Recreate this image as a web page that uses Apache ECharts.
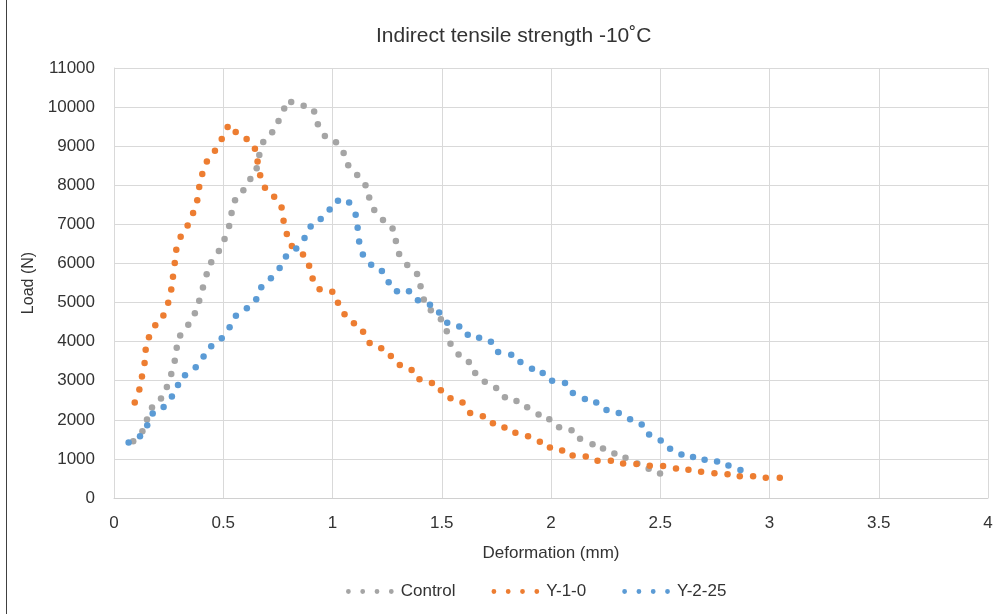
<!DOCTYPE html>
<html>
<head>
<meta charset="utf-8">
<script src="https://cdn.jsdelivr.net/npm/echarts@6/dist/echarts.min.js"></script>
<style>
  html, body { margin: 0; padding: 0; background: #fff; }
  #chart { width: 1008px; height: 614px; }
</style>
</head>
<body>
<div id="chart"></div>
<script>
// ---- Data ----
const seriesNames = ['Control', 'Y-1-0', 'Y-2-25'];

const controlX = [0.088,0.13,0.151,0.174,0.215,0.242,0.262,0.278,0.287,0.303,0.34,0.37,0.39,0.407,0.424,0.445,0.48,0.506,0.527,0.538,0.554,0.592,0.624,0.653,0.665,0.683,0.724,0.753,0.779,0.811,0.868,0.916,0.933,0.965,1.016,1.051,1.072,1.113,1.151,1.168,1.191,1.231,1.275,1.29,1.305,1.342,1.387,1.403,1.418,1.45,1.496,1.523,1.54,1.577,1.624,1.653,1.697,1.749,1.789,1.842,1.891,1.943,1.992,2.037,2.094,2.133,2.19,2.238,2.29,2.341,2.395,2.447,2.499];
const controlY = [1454,1709,2007,2314,2543,2839,3172,3512,3844,4158,4430,4728,5043,5383,5722,6028,6318,6625,6957,7288,7620,7875,8163,8436,8775,9107,9354,9643,9966,10128,10034,9890,9558,9260,9100,8827,8512,8265,8003,7686,7365,7110,6895,6573,6242,5962,5732,5416,5077,4800,4574,4268,3945,3673,3477,3196,2977,2814,2577,2482,2321,2135,2015,1811,1735,1513,1378,1267,1140,1028,880,747,628];

const y10X = [0.095,0.116,0.128,0.14,0.145,0.16,0.189,0.226,0.248,0.262,0.27,0.278,0.285,0.305,0.337,0.362,0.381,0.39,0.404,0.425,0.462,0.493,0.52,0.557,0.607,0.645,0.657,0.669,0.691,0.733,0.767,0.776,0.791,0.814,0.865,0.893,0.909,0.941,0.999,1.025,1.055,1.098,1.14,1.17,1.223,1.267,1.308,1.362,1.398,1.455,1.496,1.54,1.595,1.63,1.688,1.734,1.787,1.837,1.895,1.949,1.995,2.051,2.099,2.159,2.213,2.274,2.33,2.391,2.452,2.513,2.572,2.629,2.687,2.748,2.808,2.864,2.925,2.983,3.047];
const y10Y = [2441,2773,3105,3452,3793,4115,4421,4668,4992,5332,5663,6012,6352,6684,6972,7288,7620,7959,8291,8605,8886,9184,9490,9362,9184,8936,8605,8258,7934,7704,7431,7092,6752,6446,6232,5944,5612,5340,5273,4992,4702,4472,4252,3962,3834,3630,3401,3273,3036,2941,2755,2551,2441,2176,2092,1913,1803,1666,1582,1436,1293,1217,1089,1064,952,952,885,867,824,816,757,722,671,630,605,554,554,518,518];

const y225X = [0.067,0.119,0.152,0.177,0.227,0.265,0.293,0.325,0.374,0.41,0.445,0.493,0.529,0.558,0.608,0.651,0.674,0.718,0.758,0.787,0.834,0.872,0.9,0.946,0.987,1.025,1.076,1.106,1.115,1.122,1.139,1.177,1.226,1.257,1.295,1.35,1.391,1.446,1.488,1.525,1.58,1.619,1.671,1.725,1.758,1.818,1.86,1.913,1.962,2.005,2.064,2.1,2.155,2.207,2.254,2.31,2.362,2.415,2.449,2.502,2.545,2.597,2.65,2.703,2.76,2.812,2.867];
const y225Y = [1421,1582,1862,2161,2329,2594,2891,3138,3342,3622,3885,4089,4370,4660,4855,5084,5390,5620,5885,6181,6385,6651,6947,7135,7380,7602,7559,7245,6913,6564,6232,5969,5808,5518,5288,5288,5059,4945,4745,4482,4388,4175,4099,3997,3732,3665,3477,3308,3197,3002,2941,2686,2534,2441,2253,2176,2015,1880,1625,1472,1258,1115,1046,977,936,834,714];

const xTicks = { min: 0, max: 4, interval: 0.5 };
const yTicks = { min: 0, max: 11000, interval: 1000 };

// ---- Chart ----
const colors = ['#a5a5a5', '#ed7d31', '#5b9bd5'];
const FONT = 'Liberation Sans';
const TEXT = '#333333';
const zip = (xs, ys) => xs.map((x, i) => [x, ys[i]]);

function dotIcon() {
  const r = 2.4, cs = [2.4, 16.7, 31.0, 45.3];
  return 'path://' + cs.map(c =>
    `M${c - r},${r} a${r},${r} 0 1,0 ${2 * r},0 a${r},${r} 0 1,0 ${-2 * r},0 Z`).join(' ');
}

const chart = echarts.init(document.getElementById('chart'), null, { renderer: 'canvas' });
const dataSets = [zip(controlX, controlY), zip(y10X, y10Y), zip(y225X, y225Y)];

chart.setOption({
  backgroundColor: '#ffffff',
  animation: false,
  title: {
    text: 'Indirect tensile strength -10\u02DAC',
    left: 371, top: 21,
    textStyle: { fontFamily: FONT, fontSize: 21, fontWeight: 'normal', color: TEXT }
  },
  legend: {
    data: seriesNames,
    left: 341, top: 578,
    icon: dotIcon(),
    itemWidth: 47.7, itemHeight: 4.8,
    symbolKeepAspect: false,
    itemGap: 36,
    textStyle: { fontFamily: FONT, fontSize: 17, color: TEXT, padding: [0, 0, 0, 2] }
  },
  grid: { left: 114, right: 20, top: 68, bottom: 116, containLabel: false },
  xAxis: {
    type: 'value',
    min: xTicks.min, max: xTicks.max, interval: xTicks.interval,
    name: 'Deformation (mm)', nameLocation: 'middle', nameGap: 47,
    nameTextStyle: { fontFamily: FONT, fontSize: 17, color: TEXT },
    axisLine: { show: true, lineStyle: { color: '#d0d0d0', width: 1 } },
    axisTick: { show: false },
    axisLabel: { fontFamily: FONT, fontSize: 17, color: TEXT, margin: 17 },
    splitLine: { show: true, lineStyle: { color: '#d9d9d9', width: 1 } }
  },
  yAxis: {
    type: 'value',
    min: yTicks.min, max: yTicks.max, interval: yTicks.interval,
    name: 'Load (N)', nameLocation: 'middle', nameGap: 71, nameRotate: 90,
    nameTextStyle: { fontFamily: FONT, fontSize: 16, color: TEXT },
    axisLine: { show: true, lineStyle: { color: '#d9d9d9', width: 1 } },
    axisTick: { show: false },
    axisLabel: { fontFamily: FONT, fontSize: 17, color: TEXT, margin: 19,
                 formatter: v => String(v) },
    splitLine: { show: true, lineStyle: { color: '#d9d9d9', width: 1 } }
  },
  graphic: [{
    type: 'line', silent: true,
    shape: { x1: 6.5, y1: 0, x2: 6.5, y2: 614 },
    style: { stroke: '#404040', lineWidth: 1 }
  }],
  series: seriesNames.map((name, i) => ({
    name, type: 'scatter',
    data: dataSets[i],
    symbol: 'circle', symbolSize: 6.5,
    itemStyle: { color: colors[i], opacity: 1 },
    z: 3 + i
  }))
});
</script>
</body>
</html>
